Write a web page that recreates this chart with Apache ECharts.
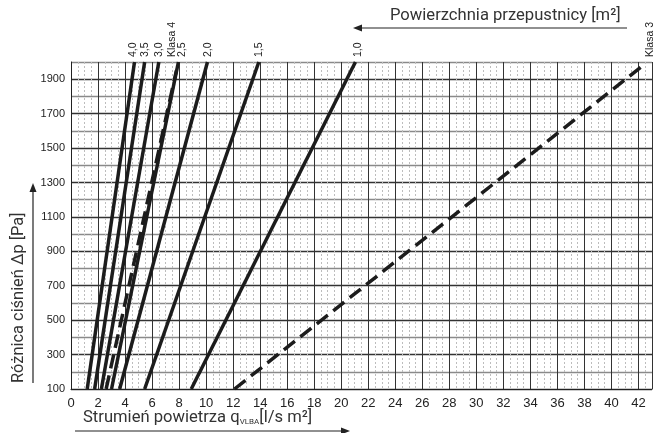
<!DOCTYPE html>
<html>
<head>
<meta charset="utf-8">
<script src="https://cdn.jsdelivr.net/npm/echarts@6/dist/echarts.min.js"></script>
<style>
  html, body { margin: 0; padding: 0; background: #fff; }
  #chart { width: 655px; height: 433px; }
</style>
</head>
<body>
<div id="chart"></div>
<script>
// nazwy linii (powierzchnia przepustnicy / klasa szczelnosci)
const lineNames = ['4,0', '3,5', '3,0', 'Klasa 4', '2,5', '2,0', '1,5', '1,0', 'Klasa 3'];
const dashed = [false, false, false, true, false, false, false, false, true];
// strumien na dole (dp = 100 Pa) i na gorze linii
const flowBottom = [1.2, 1.75, 2.25, 2.6, 3.0, 3.6, 5.45, 8.9, 12.1];
const flowTop = [4.7, 5.45, 6.5, 7.8, 7.95, 10.1, 13.9, 21.05, 42.5];
const pressureBottom = [100, 100, 100, 100, 100, 100, 100, 100, 100];
const pressureTop = [2000, 2000, 2000, 1950, 2000, 2000, 2000, 2000, 1990];
// osie
const xTicks = [0, 2, 4, 6, 8, 10, 12, 14, 16, 18, 20, 22, 24, 26, 28, 30, 32, 34, 36, 38, 40, 42];
const yTicks = [100, 300, 500, 700, 900, 1100, 1300, 1500, 1700, 1900];

// przesuniecie etykiet w poziomie, zeby sie nie nakladaly (px)
const labelShift = [-1, 0, 0, -4, 4, 1, 0, 3, 5];

const chart = echarts.init(document.getElementById('chart'));

const labelFont = '"Liberation Sans", Arial, sans-serif';
const titleFont = 'Roboto, "Open Sans", sans-serif';

const option = {
  animation: false,
  grid: { left: 71, right: 0, top: 62, bottom: 44 },
  xAxis: {
    type: 'value',
    min: 0,
    max: 43,
    interval: 2,
    axisLine: { show: true, lineStyle: { color: '#222', width: 1 } },
    axisTick: { show: false },
    axisLabel: {
      margin: 8,
      fontSize: 13,
      color: '#222',
      fontFamily: labelFont,
      formatter: (v) => (xTicks.includes(v) ? String(v) : '')
    },
    splitLine: { show: true, lineStyle: { color: '#333', width: 1 } },
    minorTick: { show: false, splitNumber: 4 },
    minorSplitLine: { show: true, lineStyle: { color: '#bdbdbd', width: 1, type: [2, 2] } }
  },
  yAxis: {
    type: 'value',
    min: 100,
    max: 2000,
    interval: 100,
    axisLine: { show: true, lineStyle: { color: '#222', width: 1 } },
    axisTick: { show: false },
    axisLabel: {
      margin: 6,
      fontSize: 11,
      color: '#222',
      fontFamily: labelFont,
      formatter: (v) => (yTicks.includes(v) ? String(v) : '')
    },
    splitLine: { show: true, lineStyle: { color: ['#333', '#8a8a8a'], width: 1.3 } }
  },
  series: lineNames.map((name, i) => ({
    name: name,
    type: 'line',
    symbol: 'none',
    silent: true,
    data: [[flowBottom[i], pressureBottom[i]], [flowTop[i], pressureTop[i]]],
    lineStyle: {
      color: '#1c1c1c',
      width: 3.5,
      type: dashed[i] ? [14, 7] : 'solid',
      cap: 'butt'
    },
    z: 5
  }))
};

chart.setOption(option);

// etykiety nad koncami linii + opisy osi ze strzalkami
const graphics = lineNames.map((name, i) => {
  const p = chart.convertToPixel({ seriesIndex: i }, [flowTop[i], pressureTop[i]]);
  return {
    type: 'text',
    x: p[0] + labelShift[i],
    y: Math.min(p[1], 62) - 5,
    rotation: Math.PI / 2,
    style: {
      text: name,
      fontSize: 10.5,
      fontFamily: labelFont,
      fill: '#222',
      align: 'left',
      verticalAlign: 'middle'
    },
    z: 10
  };
});

function arrow(x1, y1, x2, y2) {
  const ang = Math.atan2(y2 - y1, x2 - x1);
  const len = 9, w = 3.5;
  const bx = x2 - len * Math.cos(ang), by = y2 - len * Math.sin(ang);
  const nx = -Math.sin(ang) * w, ny = Math.cos(ang) * w;
  return [
    { type: 'line', shape: { x1: x1, y1: y1, x2: bx, y2: by }, style: { stroke: '#222', lineWidth: 1.2 } },
    { type: 'polygon', shape: { points: [[x2, y2], [bx + nx, by + ny], [bx - nx, by - ny]] }, style: { fill: '#222' } }
  ];
}

graphics.push(
  {
    type: 'text', x: 390, y: 16,
    style: { text: 'Powierzchnia przepustnicy [m²]', fontSize: 16.6, fontFamily: titleFont, fill: '#333', align: 'left', verticalAlign: 'middle' }
  },
  {
    type: 'text', x: 83, y: 418,
    style: {
      text: 'Strumień powietrza q{sub|VLBA}[l/s m²]',
      fontSize: 16.6, fontFamily: titleFont, fill: '#333', align: 'left', verticalAlign: 'middle',
      rich: { sub: { fontSize: 8, fontFamily: titleFont, fill: '#333', padding: [8, 0, 0, 0] } }
    }
  },
  {
    type: 'text', x: 19, y: 383, rotation: Math.PI / 2,
    style: { text: 'Różnica ciśnień Δp [Pa]', fontSize: 16.4, fontFamily: titleFont, fill: '#333', align: 'left', verticalAlign: 'middle' }
  },
  ...arrow(627, 28, 353, 28),
  ...arrow(75, 431, 350, 431),
  ...arrow(33, 383, 33, 183)
);

chart.setOption({ graphic: graphics });
</script>
</body>
</html>
